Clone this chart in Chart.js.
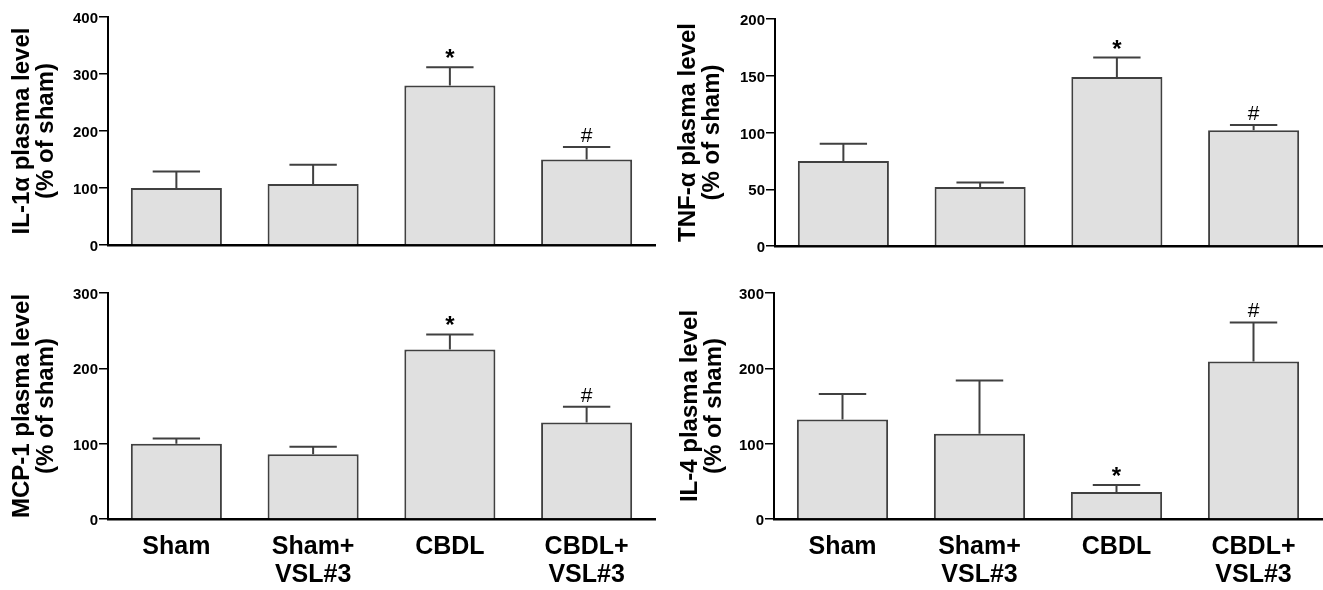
<!DOCTYPE html>
<html>
<head>
<meta charset="utf-8">
<script src="https://cdn.jsdelivr.net/npm/chart.js@4.4.0/dist/chart.umd.min.js"></script>
<style>
  body { margin: 0; background: #fff; }
  .panel { position: absolute; }
</style>
</head>
<body>
<div class="panel" style="left:0;top:0"><canvas id="c1" width="660" height="262"></canvas></div>
<div class="panel" style="left:660px;top:0"><canvas id="c2" width="663" height="262"></canvas></div>
<div class="panel" style="left:0;top:268px"><canvas id="c3" width="660" height="322"></canvas></div>
<div class="panel" style="left:660px;top:268px"><canvas id="c4" width="663" height="322"></canvas></div>
<script>
const groups = [['Sham'], ['Sham+', 'VSL#3'], ['CBDL'], ['CBDL+', 'VSL#3']];

const il1aMean = [100, 107, 280, 150];
const il1aSem = [29, 34, 32, 22];
const il1aMarks = ['', '', '*', '#'];

const tnfMean = [75, 52, 149, 102];
const tnfSem = [15, 4, 17, 4.5];
const tnfMarks = ['', '', '*', '#'];

const mcpMean = [100, 86, 225, 128];
const mcpSem = [7, 10, 20, 21];
const mcpMarks = ['', '', '*', '#'];

const il4Mean = [132, 113, 36, 209];
const il4Sem = [34, 71, 9, 52];
const il4Marks = ['', '', '*', '#'];

const FONT = "'Liberation Sans', Arial, Helvetica, sans-serif";

// draws the SEM whiskers and the significance marks on top of the bars
const errorBars = {
  id: 'errorBars',
  afterDatasetsDraw(chart, args, opts) {
    const ctx = chart.ctx;
    const y = chart.scales.y;
    const meta = chart.getDatasetMeta(0);
    meta.data.forEach((bar, i) => {
      const top = y.getPixelForValue(opts.means[i] + opts.sems[i]);
      const half = bar.width * 0.26;
      ctx.save();
      ctx.strokeStyle = '#404040';
      ctx.lineWidth = 2;
      ctx.beginPath();
      ctx.moveTo(bar.x, bar.y);
      ctx.lineTo(bar.x, top);
      ctx.moveTo(bar.x - half, top);
      ctx.lineTo(bar.x + half, top);
      ctx.stroke();
      const m = opts.marks[i];
      ctx.fillStyle = '#000';
      ctx.textAlign = 'center';
      ctx.textBaseline = 'alphabetic';
      if (m === '*') {
        ctx.font = 'bold 24px ' + FONT;
        ctx.fillText('*', bar.x, top - 1);
      } else if (m === '#') {
        ctx.font = '21px ' + FONT;
        ctx.fillText('#', bar.x, top - 5);
      }
      ctx.restore();
    });
  }
};

function makePanel(id, p) {
  new Chart(document.getElementById(id), {
    type: 'bar',
    data: {
      labels: groups,
      datasets: [{
        data: p.means,
        backgroundColor: '#e0e0e0',
        borderColor: '#404040',
        borderWidth: 2,
        borderSkipped: 'bottom',
        barPercentage: 0.666,
        categoryPercentage: 1
      }]
    },
    options: {
      responsive: false,
      animation: false,
      devicePixelRatio: 1,
      layout: { padding: { left: 0, right: p.padRight, top: p.padTop, bottom: 0 } },
      plugins: {
        legend: { display: false },
        tooltip: { enabled: false },
        errorBars: { means: p.means, sems: p.sems, marks: p.marks }
      },
      scales: {
        x: {
          grid: { display: false, drawTicks: false },
          border: { display: true, color: '#000', width: 2.5 },
          ticks: {
            display: p.showX,
            padding: 14,
            color: '#000',
            font: { family: FONT, size: 25, weight: 'bold', lineHeight: 1.136 }
          },
          afterFit: s => { s.height = p.xHeight; }
        },
        y: {
          min: 0,
          max: p.max,
          grid: { drawOnChartArea: false, drawTicks: true, tickLength: 9, color: '#000', lineWidth: 1.5 },
          border: { display: true, color: '#000', width: 2 },
          ticks: {
            stepSize: p.step,
            padding: 1,
            labelOffset: 2,
            color: '#000',
            font: { family: FONT, size: 15, weight: 'bold' }
          },
          title: {
            display: true,
            text: p.title,
            color: '#000',
            padding: { top: p.titlePad, bottom: 0 },
            font: { family: FONT, size: 24, weight: 'bold', lineHeight: 1.0 }
          },
          afterFit: s => { s.width = p.yWidth; }
        }
      }
    },
    plugins: [errorBars]
  });
}

makePanel('c1', {
  means: il1aMean, sems: il1aSem, marks: il1aMarks, max: 400, step: 100,
  title: ['IL-1\u03b1 plasma level', '(% of sham)'],
  yWidth: 108, padTop: 17, padRight: 5, xHeight: 17, titlePad: 10, showX: false
});
makePanel('c2', {
  means: tnfMean, sems: tnfSem, marks: tnfMarks, max: 200, step: 50,
  title: ['TNF-\u03b1 plasma level', '(% of sham)'],
  yWidth: 115, padTop: 19, padRight: 1, xHeight: 16, titlePad: 16, showX: false
});
makePanel('c3', {
  means: mcpMean, sems: mcpSem, marks: mcpMarks, max: 300, step: 100,
  title: ['MCP-1 plasma level', '(% of sham)'],
  yWidth: 108, padTop: 25, padRight: 5, xHeight: 71, titlePad: 10, showX: true
});
makePanel('c4', {
  means: il4Mean, sems: il4Sem, marks: il4Marks, max: 300, step: 100,
  title: ['IL-4 plasma level', '(% of sham)'],
  yWidth: 114, padTop: 25, padRight: 1, xHeight: 71, titlePad: 18, showX: true
});
</script>
</body>
</html>
